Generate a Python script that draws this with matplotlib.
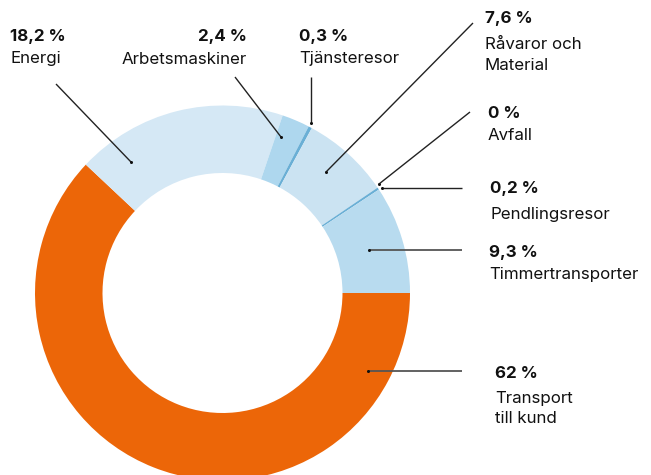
import matplotlib
matplotlib.use("Agg")
import matplotlib.pyplot as plt

categories = ["Transport\ntill kund", "Energi", "Arbetsmaskiner", "Tjänsteresor",
              "Råvaror och\nMaterial", "Avfall", "Pendlingsresor", "Timmertransporter"]
values = [62.0, 18.2, 2.4, 0.3, 7.6, 0.0, 0.2, 9.3]
pct_labels = ["62 %", "18,2 %", "2,4 %", "0,3 %", "7,6 %", "0 %", "0,2 %", "9,3 %"]
colors = ["#EC6608", "#D5E8F5", "#AED7EE", "#6AAFD5", "#CBE3F2", "#CBE3F2", "#6AAFD5", "#B8DBEF"]

W, H = 651, 475
fig = plt.figure(figsize=(W / 100, H / 100), dpi=100)
ax = fig.add_axes([0, 0, 1, 1])

cx, cy = 222.5, H - 293
R = 187.5
ax.pie(values, colors=colors, startangle=0, counterclock=False,
       radius=R, center=(cx, cy), frame=True,
       wedgeprops=dict(width=R - 120, linewidth=0, antialiased=True))
ax.set_xlim(0, W)
ax.set_ylim(0, H)
ax.set_aspect("equal")
ax.axis("off")

FONT = ["Inter", "DejaVu Sans"]
FS = 12.2

def Y(y):
    return H - y

# label layout: (pct x, pct y, name y, ha)
layout = {
    0: (495, 373, 408.5, "left"),
    1: (10, 37, 59, "left"),
    2: (247, 37, 59, "right"),
    3: (299, 37, 59, "left"),
    4: (485, 18, 55, "left"),
    5: (488, 113, 135, "left"),
    6: (490, 188, 215, "left"),
    7: (489, 252, 275, "left"),
}
for i, (x, yp, yn, ha) in layout.items():
    ax.text(x, Y(yp), pct_labels[i], fontsize=FS, fontweight="bold", family=FONT,
            ha=ha, va="center", color="#111111")
    ax.text(x, Y(yn), categories[i], fontsize=FS, family=FONT, ha=ha, va="center",
            color="#111111", linespacing=1.42)

# leader lines: (outer end, inner end, color, lw)
leaders = [
    ((462, 371), (368, 371), "#555555", 1.3),
    ((56, 84), (131, 162), "#222222", 1.0),
    ((235, 77), (281, 137), "#222222", 1.0),
    ((311, 77), (311, 123), "#222222", 1.0),
    ((473, 23), (326, 172), "#222222", 1.0),
    ((470, 112), (379, 184), "#222222", 1.0),
    ((462, 188), (382, 188), "#222222", 1.0),
    ((462, 250), (369, 250), "#555555", 1.3),
]
for (x0, y0), (x1, y1), c, lw in leaders:
    ax.plot([x0, x1], [Y(y0), Y(y1)], color=c, lw=lw, solid_capstyle="butt")
    ax.plot([x1], [Y(y1)], marker="o", ms=2.2, color="#111111", mew=0)

fig.savefig("out.png", dpi=100)
